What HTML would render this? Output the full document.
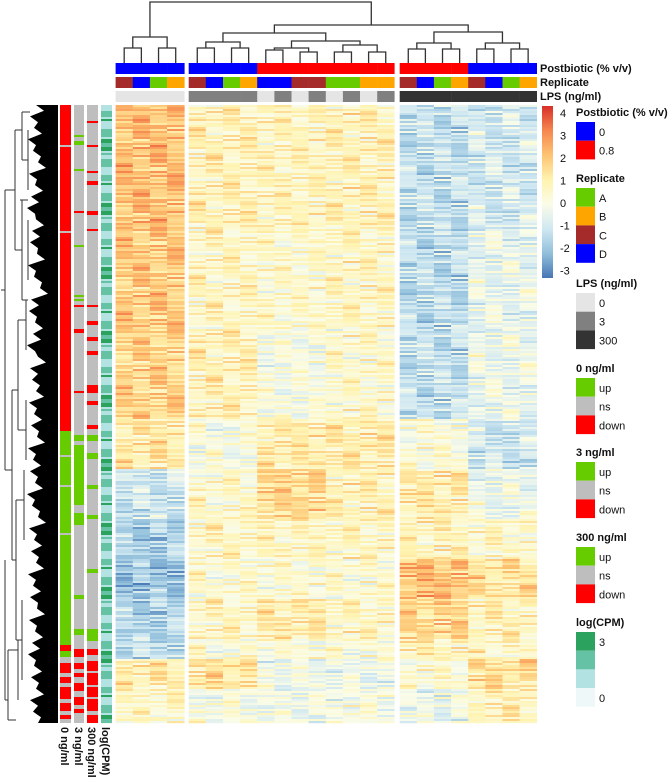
<!DOCTYPE html>
<html><head><meta charset="utf-8">
<style>
body{margin:0;background:#fff;width:669px;height:781px;overflow:hidden;font-family:"Liberation Sans",Arial,sans-serif}
svg{position:absolute;left:0;top:0}
text{font-family:"Liberation Sans",Arial,sans-serif;fill:#111}
.b{font-weight:bold;font-size:11px}
.n{font-size:11px}
</style></head>
<body>
<svg id="chart" width="669" height="781" viewBox="0 0 669 781"></svg>
<script>
// ---------- data ----------
const columnGroups = [4, 12, 8];
const postbioticCols = ['0','0','0','0','0','0','0','0','0.8','0.8','0.8','0.8','0.8','0.8','0.8','0.8','0.8','0.8','0.8','0.8','0','0','0','0'];
const replicateCols = ['C','D','A','B','C','D','A','B','D','D','C','C','A','A','B','B','C','D','A','B','C','D','A','B'];
const lpsCols = ['0','0','0','0','3','3','3','3','0','3','0','3','0','3','0','3','300','300','300','300','300','300','300','300'];
// row blocks: [startRow, endRow] and mean z-score per column subgroup (g1, g2a, g2b, g2c, g3a, g3b)
const blockRows = [[0,62],[62,112],[112,157],[157,182],[182,207],[207,227],[227,247],[247,267],[267,277],[277,292],[292,309]];
const blockMeans = [
 [2.0,0.8,0.7,0.8,-1.2,-0.9],
 [1.8,0.6,0.4,0.6,-1.3,-0.4],
 [1.6,0.8,0.0,0.4,-1.2,-0.3],
 [1.1,0.0,1.0,1.0,0.2,-1.0],
 [-1.0,0.4,1.5,0.8,1.0,-0.3],
 [-1.6,0.6,0.6,0.6,0.7,0.5],
 [-1.8,0.3,0.3,0.3,2.0,1.2],
 [-1.5,0.6,1.0,0.6,1.5,0.8],
 [-1.2,0.2,0.2,0.2,0.8,0.5],
 [1.0,1.2,-0.2,-0.3,0.3,1.3],
 [0.5,0.0,-0.2,0.0,-0.3,0.8]];
const rowJitter = [0.3,-0.5,0.1,0.8,-0.2,-0.9,0.5,0.0,-0.4,0.7,-0.7,0.2,1.0,-0.3,0.4,-1.1,0.6,-0.1,0.9,-0.6,0.2,-0.8,0.3,0.0,-0.4,1.2,-0.2,0.5,-0.9,0.1,0.7,-0.5,0.4,-0.3,0.0,0.8,-0.6];
// row annotations: segments [startRow,endRow,category]
const ann0 = [[0,20,'down'],[20,21,'ns'],[21,63,'down'],[63,64,'ns'],[64,202,'down'],[202,203,'ns'],[203,163,'down'],[163,270,'up'],[175,176,'ns'],[190,191,'ns'],[214,215,'ns'],[270,273,'down'],[273,276,'up'],[276,279,'ns'],[279,284,'down'],[284,286,'ns'],[286,289,'down'],[289,291,'ns'],[291,297,'down'],[297,299,'ns'],[299,303,'down'],[303,305,'ns'],[305,307,'down'],[307,309,'ns']];
const ann3 = [[0,309,'ns'],[15,16,'up'],[18,20,'up'],[32,33,'up'],[53,54,'down'],[70,71,'up'],[95,96,'up'],[97,98,'up'],[100,101,'down'],[112,114,'down'],[143,144,'down'],[165,168,'up'],[170,200,'up'],[204,210,'up'],[245,247,'up'],[262,265,'up'],[272,276,'down'],[279,282,'down'],[284,286,'down'],[289,293,'down'],[296,300,'down'],[302,304,'down']];
const ann300 = [[0,309,'ns'],[8,9,'down'],[20,21,'down'],[33,34,'down'],[38,40,'down'],[53,55,'down'],[62,63,'down'],[100,101,'down'],[108,110,'down'],[116,118,'down'],[123,125,'down'],[140,144,'down'],[148,150,'down'],[160,162,'down'],[165,168,'up'],[174,177,'up'],[190,192,'up'],[205,207,'up'],[232,234,'up'],[262,268,'up'],[272,275,'down'],[278,303,'down'],[283,284,'ns'],[290,291,'ns'],[296,297,'ns'],[305,309,'down']];
const cpmLevels = [1,2,1,3,2,1,2,2,1,3,1,2,2,1,3,2,1,2,1,1,2,3,2,1,2,2,3,1,2,1,1,2];
const colorTicks = [4,3,2,1,0,-1,-2,-3];

// ---------- helpers ----------
const NS='http://www.w3.org/2000/svg';
const svg=document.getElementById('chart');
function mk(tag,attrs,parent){const e=document.createElementNS(NS,tag);for(const k in attrs)e.setAttribute(k,attrs[k]);(parent||svg).appendChild(e);return e;}
const HM_TOP=105, ROW_H=2, NROWS=309;
const groupX=[[115.6,184.3],[188.7,394.3],[399.7,536.7]];
function colX(i){let g=0,k=i;while(k>=columnGroups[g]){k-=columnGroups[g];g++;}const w=(groupX[g][1]-groupX[g][0])/columnGroups[g];return [groupX[g][0]+k*w,w];}
function rowY(r){return HM_TOP+r*ROW_H;}
function subgroup(i){if(i<4)return 0;if(i<16)return 1+Math.floor((i-4)/4);return 4+Math.floor((i-16)/4);}
const stops=[[-3,[69,117,180]],[-2,[145,191,219]],[-1,[208,232,242]],[0,[250,252,232]],[1,[255,243,176]],[2,[253,196,115]],[3,[246,135,80]],[4,[215,48,39]]];
function zColor(v){v=Math.max(-3,Math.min(4,v));for(let i=0;i<stops.length-1;i++){if(v<=stops[i+1][0]){const t=(v-stops[i][0]);const a=stops[i][1],b=stops[i+1][1];return 'rgb('+a.map((c,j)=>Math.round(c+(b[j]-c)*t)).join(',')+')';}}return 'rgb(215,48,39)';}
const postColor={'0':'#0000ff','0.8':'#ff0000'};
const repColor={A:'#66cc00',B:'#ffa500',C:'#a52a2a',D:'#0000ff'};
const lpsColor={'0':'#e5e5e5','3':'#808080','300':'#333333'};
const degColor={up:'#66cc00',ns:'#bebebe',down:'#ff0000'};
const cpmColor=['#eef8f8','#b2e2e2','#66c2a4','#2ca25f'];

// ---------- heatmap ----------
const hm=mk('g',{});


for(let b=0;b<blockRows.length;b++){
  for(let r=blockRows[b][0];r<blockRows[b][1];r++){
    for(let c=0;c<24;c++){
      const j=rowJitter[(r*7+c*13)%rowJitter.length]+0.5*rowJitter[(r*3+c)%rowJitter.length];
      const v=blockMeans[b][subgroup(c)]+j*0.8;
      const [x,w]=colX(c);
      const cell=mk('rect',{x:x.toFixed(1),y:rowY(r),width:(w+0.3).toFixed(1),height:ROW_H+0.2,fill:zColor(v)},hm);
      
      
    }
  }
}
// ---------- column annotations ----------
function colAnn(arr,cmap,y,name){
  const g=mk('g',{});
  
  
  arr.forEach((v,c)=>{const [x,w]=colX(c);const r=mk('rect',{x:x.toFixed(1),y:y,width:(w+0.3).toFixed(1),height:11,fill:cmap[v]},g);
    
    });
}
colAnn(postbioticCols,postColor,63,'postbiotic-annotation');
colAnn(replicateCols,repColor,77,'replicate-annotation');
colAnn(lpsCols,lpsColor,91,'lps-annotation');
[['Postbiotic (% v/v)',72],['Replicate',86],['LPS (ng/ml)',100]].forEach(([t,y])=>{const e=mk('text',{x:540,y:y,class:'b'});e.textContent=t;
  
  });

// ---------- row annotations ----------
function rowAnn(segs,x,w,name){
  const g=mk('g',{});
  
  
  segs.forEach(s=>{if(s[1]<=s[0])return;const r=mk('rect',{x:x,y:rowY(s[0]),width:w,height:(s[1]-s[0])*ROW_H,fill:degColor[s[2]]},g);
    
    });
}
rowAnn(ann0,60,11,'row-annotation-0ng');
rowAnn(ann3,74,10,'row-annotation-3ng');
rowAnn(ann300,87,11,'row-annotation-300ng');
const cg=mk('g',{});


for(let r=0;r<NROWS;r++){const lv=cpmLevels[(r*5)%cpmLevels.length];const e=mk('rect',{x:101,y:rowY(r),width:11,height:ROW_H+0.1,fill:cpmColor[lv]},cg);
  
  }
[['0 ng/ml',65],['3 ng/ml',79],['300 ng/ml',92],['log(CPM)',106]].forEach(([t,x])=>{const e=mk('text',{x:x-4,y:727,class:'b',transform:'rotate(90 '+(x-4)+' 727)'});e.textContent=t;
  
  });

// ---------- top dendrogram ----------
const dg=mk('g',{stroke:'#333','stroke-width':1.3,fill:'none'});


function U(x1,x2,y,y1,y2){mk('path',{d:`M${x1},${y1} V${y} H${x2} V${y2}`},dg);}
const cx=i=>{const [x,w]=colX(i);return x+w/2;};
U(cx(0),cx(1),48,63,63);U(cx(2),cx(3),48,63,63);
U((cx(0)+cx(1))/2,(cx(2)+cx(3))/2,37,48,48);
U(cx(4),cx(5),48,63,63);U(cx(6),cx(7),48,63,63);
U((cx(4)+cx(5))/2,(cx(6)+cx(7))/2,42,48,48);
U(cx(8),cx(9),50,63,63);U(cx(10),cx(11),52,63,63);
U((cx(8)+cx(9))/2,(cx(10)+cx(11))/2,48,50,52);
U(cx(12),cx(13),52,63,63);U(cx(14),cx(15),52,63,63);
U((cx(12)+cx(13))/2,(cx(14)+cx(15))/2,45,52,52);
const m2b=((cx(8)+cx(9))/2+(cx(10)+cx(11))/2)/2, m2c=((cx(12)+cx(13))/2+(cx(14)+cx(15))/2)/2;
U(m2b,m2c,41,48,45);
const m2a=((cx(4)+cx(5))/2+(cx(6)+cx(7))/2)/2, m2bc=(m2b+m2c)/2;
U(m2a,m2bc,33,42,41);
U(cx(16),cx(17),49,63,63);U(cx(18),cx(19),49,63,63);U(cx(20),cx(21),49,63,63);U(cx(22),cx(23),49,63,63);
const g3a=((cx(16)+cx(17))/2+(cx(18)+cx(19))/2)/2, g3b=((cx(20)+cx(21))/2+(cx(22)+cx(23))/2)/2;
U((cx(16)+cx(17))/2,(cx(18)+cx(19))/2,43,49,49);U((cx(20)+cx(21))/2,(cx(22)+cx(23))/2,43,49,49);
U(g3a,g3b,32,43,43);
const m2=(m2a+m2bc)/2, m3=(g3a+g3b)/2;
U(m2,m3,25,33,32);
const m1=((cx(0)+cx(1))/2+(cx(2)+cx(3))/2)/2;
U(m1,(m2+m3)/2,2,37,25);

// ---------- left dendrogram ----------
const lg=mk('g',{});


let pts='58,105 ';
const edge=[36,30,34,28,33,38,29,35,31,27,36,32,30,37,28,34,40,31,29,35,33,27,38,30,32,36,29,34,31,37,28,33,30,35,27,32,38,29,34,31,36,28,33,30,37,29,35,32,28,34,31,36,30,33];
edge.forEach((e,i)=>{pts+=e+','+(105+i*618/edge.length).toFixed(1)+' ';pts+=(e+8)+','+(105+(i+0.5)*618/edge.length).toFixed(1)+' ';});
pts+='38,723 58,723';
mk('polygon',{points:pts,fill:'#000'},lg);
const lines=mk('g',{stroke:'#333','stroke-width':1,fill:'none'},lg);
mk('path',{d:'M1,290 H5 M5,190 V470 M5,190 H15 M5,470 H12 M15,130 V250 M15,130 H22 M15,250 H20 M22,112 V160 M22,200 V300 M12,390 V560 M12,390 H18 M12,560 H16 M18,320 V430 M16,500 V640 M5,560 V700 M5,700 H8 M8,650 V720 M22,112 H30 M22,160 H28 M20,200 H22 M20,250 H22 M22,200 H28 M22,300 H28 M18,320 H26 M18,430 H26 M16,500 H24 M16,640 H22 M8,650 H18 M8,720 H16 M26,300 V350 M26,400 V460 M24,470 V540 M22,600 V680 M18,640 V700 M28,130 V190 M28,220 V280'},lines);

// ---------- color key ----------
const defs=mk('defs',{});
const grad=mk('linearGradient',{id:'zgrad',x1:0,y1:1,x2:0,y2:0},defs);
stops.forEach(s=>{mk('stop',{offset:((s[0]+3)/7).toFixed(3),'stop-color':'rgb('+s[1].join(',')+')'},grad);});
const ck=mk('rect',{x:542,y:106,width:11,height:172,fill:'url(#zgrad)'});


colorTicks.forEach(t=>{const y=113+(4-t)*22.5;const e=mk('text',{x:560,y:y+4,class:'n'});e.textContent=t;
  
  });

// ---------- legends ----------
function legend(title,y,items,name){
  const g=mk('g',{});
  
  
  const t=mk('text',{x:576,y:y,class:'b'},g);t.textContent=title;
  items.forEach((it,i)=>{const yy=y+6+i*18.7;
    const r=mk('rect',{x:576,y:yy,width:19,height:18.7,fill:it[1]},g);
    
    
    if(it[0]){const l=mk('text',{x:599,y:yy+14,class:'n'},g);l.textContent=it[0];
      
      }});
}
legend('Postbiotic (% v/v)',116,[['0','#0000ff'],['0.8','#ff0000']],'legend-postbiotic');
legend('Replicate',182,[['A','#66cc00'],['B','#ffa500'],['C','#a52a2a'],['D','#0000ff']],'legend-replicate');
legend('LPS (ng/ml)',287,[['0','#e5e5e5'],['3','#808080'],['300','#333333']],'legend-lps');
legend('0 ng/ml',372,[['up','#66cc00'],['ns','#bebebe'],['down','#ff0000']],'legend-0ng');
legend('3 ng/ml',456,[['up','#66cc00'],['ns','#bebebe'],['down','#ff0000']],'legend-3ng');
legend('300 ng/ml',541,[['up','#66cc00'],['ns','#bebebe'],['down','#ff0000']],'legend-300ng');
legend('log(CPM)',626,[['3','#2ca25f'],['','#66c2a4'],['','#b2e2e2'],['0','#eef8f8']],'legend-logcpm');
</script>
</body></html>
